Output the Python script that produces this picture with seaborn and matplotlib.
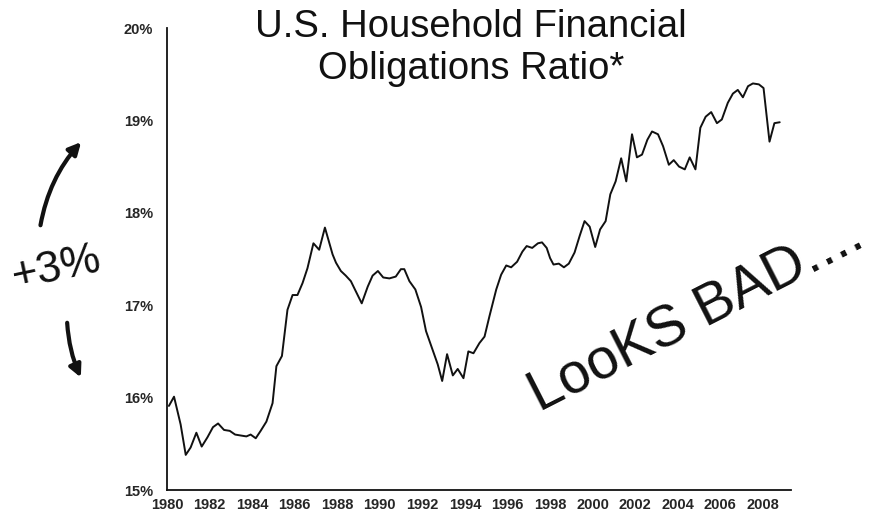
import numpy as np
import pandas as pd
import matplotlib
matplotlib.use("Agg")
import matplotlib.pyplot as plt
import seaborn as sns

# Quarterly readings of the household financial obligations ratio (percent)
years = [
    1980.09, 1980.33, 1980.64, 1980.88, 1981.11, 1981.38, 1981.63, 1981.90,
    1982.16, 1982.40, 1982.68, 1982.95, 1983.20, 1983.46, 1983.73, 1983.93,
    1984.17, 1984.40, 1984.67, 1984.96, 1985.14, 1985.40, 1985.66, 1985.90,
    1986.13, 1986.37, 1986.60, 1986.88, 1987.15, 1987.42, 1987.78, 1987.94,
    1988.17, 1988.40, 1988.64, 1988.83, 1989.15, 1989.43, 1989.66, 1989.91,
    1990.16, 1990.45, 1990.75, 1990.99, 1991.15, 1991.39, 1991.67, 1991.94,
    1992.17, 1992.46, 1992.72, 1992.93, 1993.16, 1993.43, 1993.66, 1993.93,
    1994.16, 1994.40, 1994.68, 1994.92, 1995.15, 1995.47, 1995.70, 1995.94,
    1996.17, 1996.45, 1996.70, 1996.90, 1997.16, 1997.43, 1997.62, 1997.84,
    1998.00, 1998.16, 1998.41, 1998.65, 1998.88, 1999.15, 1999.39, 1999.62,
    1999.86, 2000.12, 2000.35, 2000.61, 2000.83, 2001.08, 2001.34, 2001.58,
    2001.85, 2002.08, 2002.32, 2002.57, 2002.79, 2003.07, 2003.31, 2003.58,
    2003.81, 2004.06, 2004.33, 2004.56, 2004.83, 2005.06, 2005.31, 2005.57,
    2005.84, 2006.07, 2006.35, 2006.59, 2006.82, 2007.06, 2007.30, 2007.53,
    2007.81, 2008.03, 2008.31, 2008.54, 2008.79,
]
ratio = [
    15.91, 16.01, 15.71, 15.38, 15.46, 15.62, 15.47, 15.57,
    15.68, 15.72, 15.65, 15.64, 15.60, 15.59, 15.58, 15.60,
    15.56, 15.64, 15.74, 15.94, 16.34, 16.45, 16.95, 17.11,
    17.11, 17.24, 17.40, 17.67, 17.60, 17.84, 17.55, 17.46,
    17.37, 17.32, 17.26, 17.17, 17.02, 17.20, 17.32, 17.37,
    17.30, 17.29, 17.31, 17.39, 17.39, 17.26, 17.17, 16.98,
    16.72, 16.53, 16.36, 16.18, 16.47, 16.24, 16.31, 16.21,
    16.50, 16.48, 16.59, 16.66, 16.88, 17.17, 17.33, 17.43,
    17.41, 17.47, 17.58, 17.64, 17.62, 17.67, 17.68, 17.62,
    17.51, 17.44, 17.45, 17.41, 17.45, 17.57, 17.75, 17.91,
    17.85, 17.63, 17.82, 17.91, 18.20, 18.34, 18.59, 18.34,
    18.85, 18.60, 18.63, 18.79, 18.88, 18.85, 18.72, 18.52,
    18.57, 18.50, 18.47, 18.60, 18.47, 18.92, 19.04, 19.09,
    18.97, 19.01, 19.19, 19.29, 19.33, 19.25, 19.37, 19.40,
    19.39, 19.35, 18.77, 18.97, 18.98,
]

x_ticks = list(range(1980, 2009, 2))
y_ticks = [15, 16, 17, 18, 19, 20]
y_labels = ["15%", "16%", "17%", "18%", "19%", "20%"]

title = "U.S. Household Financial\nObligations Ratio*"
note_left = "+3%"
note_right = "LooKS BAD...."

sns.set_theme(style="white")
plt.rcParams["font.family"] = ["Liberation Sans", "DejaVu Sans"]

df = pd.DataFrame({"year": years, "ratio": ratio})

fig = plt.figure(figsize=(8.77, 5.2), dpi=100)
ax = fig.add_axes([167 / 877, 30 / 520, (791 - 167) / 877, 462 / 520])

sns.lineplot(data=df, x="year", y="ratio", ax=ax, color="#111111", linewidth=1.4)

ax.set_xlim(1980, 2009.32)
ax.set_ylim(15, 20)
ax.set_xticks(x_ticks)
ax.set_xticklabels([str(y) for y in x_ticks], fontweight="bold", fontsize=10.5)
ax.set_yticks(y_ticks)
ax.set_yticklabels(y_labels, fontweight="bold", fontsize=10.5)
ax.set_xlabel("")
ax.set_ylabel("")
for side in ("top", "right"):
    ax.spines[side].set_visible(False)
for side in ("left", "bottom"):
    ax.spines[side].set_color("#111111")
    ax.spines[side].set_linewidth(1.3)
ax.tick_params(axis="y", direction="out", length=5, width=1.1, color="#111111", pad=5)
ax.tick_params(axis="x", direction="inout", length=6, width=1.1, color="#111111", pad=3)
ax.patch.set_alpha(0)

fig.text(471 / 877, 1 - 9 / 520, title, ha="center", va="top", fontsize=27.5,
         linespacing=1.2, color="#111111")

# handwritten notes
fig.text(57 / 877, 1 - 268 / 520, note_left, ha="center", va="center", fontsize=32,
         rotation=12, color="#111111")
fig.text(697 / 877, 1 - 316 / 520, note_right, ha="center", va="center", fontsize=41,
         rotation=27, rotation_mode="anchor", color="#111111")

ax.annotate("", xy=(83 / 877, 1 - 140 / 520), xytext=(40 / 877, 1 - 228 / 520),
            xycoords="figure fraction", textcoords="figure fraction",
            arrowprops=dict(arrowstyle="-|>", color="#111111", lw=3,
                            connectionstyle="arc3,rad=-0.15", mutation_scale=18))
ax.annotate("", xy=(82 / 877, 1 - 380 / 520), xytext=(67 / 877, 1 - 320 / 520),
            xycoords="figure fraction", textcoords="figure fraction",
            arrowprops=dict(arrowstyle="-|>", color="#111111", lw=3,
                            connectionstyle="arc3,rad=0.1", mutation_scale=18))

fig.savefig("out.png", dpi=100)
